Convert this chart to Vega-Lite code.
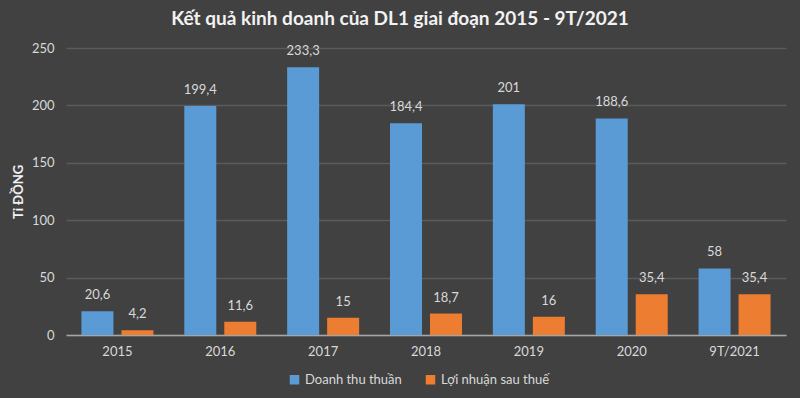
{
  "$schema": "https://vega.github.io/schema/vega-lite/v6.json",
  "width": 720,
  "height": 287,
  "autosize": {"type": "none"},
  "padding": {"left": 66, "top": 48, "right": 14, "bottom": 63},
  "background": "#414141",
  "config": {
    "view": {"stroke": null},
    "font": "Lato",
    "locale": {"number": {"decimal": ",", "thousands": ".", "grouping": [3], "currency": ["", " đ"]}}
  },
  "title": {
    "text": "Kết quả kinh doanh của DL1 giai đoạn 2015 - 9T/2021",
    "fontSize": 19,
    "fontWeight": "bold",
    "color": "#f2f2f2",
    "anchor": "middle",
    "dx": -26,
    "offset": 13
  },
  "data": {
    "values": [
      {"year": "2015", "series": "Doanh thu thuần", "value": 20.6},
      {"year": "2015", "series": "Lợi nhuận sau thuế", "value": 4.2},
      {"year": "2016", "series": "Doanh thu thuần", "value": 199.4},
      {"year": "2016", "series": "Lợi nhuận sau thuế", "value": 11.6},
      {"year": "2017", "series": "Doanh thu thuần", "value": 233.3},
      {"year": "2017", "series": "Lợi nhuận sau thuế", "value": 15},
      {"year": "2018", "series": "Doanh thu thuần", "value": 184.4},
      {"year": "2018", "series": "Lợi nhuận sau thuế", "value": 18.7},
      {"year": "2019", "series": "Doanh thu thuần", "value": 201},
      {"year": "2019", "series": "Lợi nhuận sau thuế", "value": 16},
      {"year": "2020", "series": "Doanh thu thuần", "value": 188.6},
      {"year": "2020", "series": "Lợi nhuận sau thuế", "value": 35.4},
      {"year": "9T/2021", "series": "Doanh thu thuần", "value": 58},
      {"year": "9T/2021", "series": "Lợi nhuận sau thuế", "value": 35.4}
    ]
  },
  "encoding": {
    "x": {
      "field": "year", "type": "nominal", "sort": null, "title": null,
      "scale": {"paddingInner": 0.3, "paddingOuter": 0.15},
      "axis": {"labelAngle": 0, "labelColor": "#d9d9d9", "labelFontSize": 13, "labelPadding": 10, "ticks": false, "domainColor": "#a6a6a6", "domainWidth": 1.5, "grid": false}
    },
    "xOffset": {"field": "series", "type": "nominal", "scale": {"paddingInner": 0.2, "paddingOuter": 0}},
    "y": {
      "field": "value", "type": "quantitative", "title": "Tỉ ĐỒNG",
      "scale": {"domain": [0, 250]},
      "axis": {"values": [0, 50, 100, 150, 200, 250], "labelColor": "#d9d9d9", "labelFontSize": 13, "labelPadding": 12, "ticks": false, "domain": false, "gridColor": "#5c5c5c", "gridWidth": 1.5, "titleColor": "#f2f2f2", "titleFontSize": 13, "titleFontWeight": "bold", "titlePadding": 6}
    }
  },
  "layer": [
    {
      "mark": {"type": "bar"},
      "encoding": {
        "color": {
          "field": "series", "type": "nominal", "sort": null,
          "scale": {"domain": ["Doanh thu thuần", "Lợi nhuận sau thuế"], "range": ["#5b9bd5", "#ed7d31"]},
          "legend": {"title": null, "orient": "none", "direction": "horizontal", "legendX": 222, "legendY": 325, "labelColor": "#d9d9d9", "labelFontSize": 13, "symbolType": "square", "symbolSize": 90, "symbolStrokeWidth": 0, "columnPadding": 22}
        }
      }
    },
    {
      "mark": {"type": "text", "baseline": "bottom", "dy": -9, "fontSize": 13, "color": "#d9d9d9"},
      "encoding": {"text": {"field": "value", "type": "quantitative", "format": ".1~f"}}
    }
  ]
}
